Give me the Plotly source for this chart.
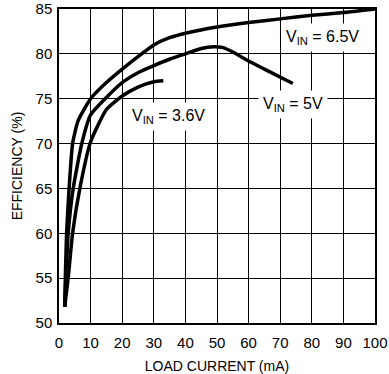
import plotly.graph_objects as go

x_65 = [1.8, 2.0, 2.4, 3.2, 4.3, 6, 10, 15, 20, 25, 30, 35, 40, 50, 60, 70, 80, 90, 100]
y_65 = [51.8, 55, 60, 65, 70, 72.5, 75, 76.8, 78.3, 79.7, 81.0, 81.8, 82.3, 83.0, 83.5, 83.9, 84.3, 84.6, 85.0]

x_5 = [1.8, 2.2, 2.9, 4.5, 7.2, 10, 14.6, 20, 25, 30, 35, 40, 45, 49, 52, 55, 60, 65, 74]
y_5 = [51.8, 55, 60, 65, 70, 73.2, 75, 76.8, 77.9, 78.7, 79.4, 80.0, 80.6, 80.8, 80.7, 80.2, 79.2, 78.3, 76.7]

x_36 = [1.8, 2.9, 4.3, 6.6, 10, 15, 20, 25, 30, 33]
y_36 = [51.8, 55, 60, 65, 70.2, 73.8, 75.3, 76.3, 76.9, 77.0]

x_ticks = [0, 10, 20, 30, 40, 50, 60, 70, 80, 90, 100]
y_ticks = [50, 55, 60, 65, 70, 75, 80, 85]

labels = ["V<sub>IN</sub> = 6.5V", "V<sub>IN</sub> = 5V", "V<sub>IN</sub> = 3.6V"]
label_x = [83.3, 74.2, 34.5]
label_y = [81.8, 74.4, 73.0]

FONT = "Liberation Sans, Arial"

fig = go.Figure()
for xs, ys in [(x_65, y_65), (x_5, y_5), (x_36, y_36)]:
    fig.add_trace(go.Scatter(x=xs, y=ys, mode="lines", line=dict(color="black", width=3.5, shape="spline", smoothing=0.5), showlegend=False, hoverinfo="skip"))

for t, xx, yy in zip(labels, label_x, label_y):
    fig.add_annotation(x=xx, y=yy, text=t, showarrow=False, bgcolor="white", font=dict(family=FONT, size=16, color="black"), borderpad=4)

axis_common = dict(showgrid=True, gridcolor="black", gridwidth=1, showline=True, linecolor="black", linewidth=1.5, mirror=True, zeroline=False, ticks="", automargin=False, ticklabeloverflow="allow", tickfont=dict(family=FONT, size=15, color="black"))

fig.update_xaxes(range=[0, 100], tickvals=x_ticks, ticktext=[str(v) for v in x_ticks], title=dict(text="LOAD CURRENT (mA)", font=dict(family=FONT, size=14, color="black"), standoff=14), ticklabelstandoff=5, **axis_common)
fig.update_yaxes(range=[50, 85], tickvals=y_ticks, ticktext=[str(v) for v in y_ticks], title=dict(text="EFFICIENCY (%)", font=dict(family=FONT, size=14, color="black"), standoff=10), ticklabelstandoff=2, **axis_common)

fig.update_layout(width=389, height=374, margin=dict(l=59, r=14, t=9, b=51, autoexpand=False), plot_bgcolor="white", paper_bgcolor="white")

fig.write_html("out.html", config={"displayModeBar": False}, post_script="document.body.style.margin='0';")
